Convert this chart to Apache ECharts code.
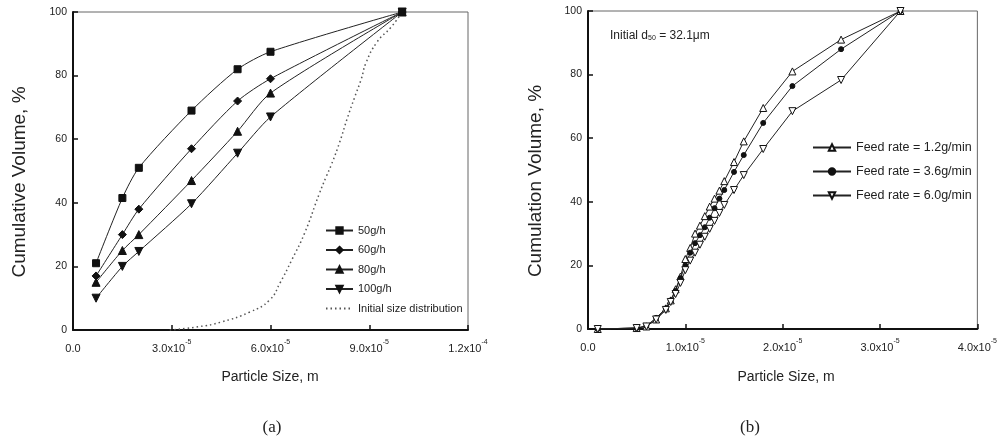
<!DOCTYPE html>
<html><head><meta charset="utf-8">
<script src="https://cdn.jsdelivr.net/npm/echarts@6/dist/echarts.min.js"></script>
<style>html,body{margin:0;padding:0;background:#fff}#c{width:1000px;height:442px}</style>
</head><body><div id="c"></div>
<script>
// Panel (a): particle size in micrometres, cumulative volume %
const sizeA = [7, 15, 20, 36, 50, 60, 100];
const v50 = [21, 41.5, 51, 69, 82, 87.5, 100];
const v60 = [17, 30, 38, 57, 72, 79, 100];
const v80 = [15, 25, 30, 47, 62.5, 74.5, 100];
const v100 = [10, 20, 24.7, 39.7, 55.6, 67, 100];
const initSize = [29.4, 38, 45, 53.6, 59.7, 63, 66.4, 70.3, 74.8, 77, 78.5, 81, 83.3, 85.5, 87.6, 89, 92.4, 96.7, 100];
const initVol = [0, 1, 2.5, 5.6, 9.4, 15, 21.9, 30.3, 42.8, 48.4, 52, 59, 66.5, 73, 79, 84, 90.6, 95.3, 100];
const namesA = ['50g/h', '60g/h', '80g/h', '100g/h', 'Initial size distribution'];

// Panel (b)
const sizeB = [1, 5, 6, 7, 8, 8.5, 9, 9.5, 10, 10.5, 11, 11.5, 12, 12.5, 13, 13.5, 14, 15, 16, 18, 21, 26, 32.1];
const r12 = [0, 0.3, 0.8, 3, 6.5, 9, 12.5, 16.5, 22, 25.5, 30, 32.5, 35.5, 38.5, 41, 43.5, 46.5, 52.5, 59, 69.5, 81, 91, 100];
const r36 = [0, 0.3, 1, 3.5, 6.5, 9, 12, 16, 20, 24, 27, 29.5, 32, 35, 38, 41, 43.7, 49.4, 54.7, 64.8, 76.4, 88, 100];
const r60 = [0, 0.3, 0.8, 3, 6, 8.5, 11, 14.5, 18.5, 21.5, 24, 26.5, 29, 31.5, 34, 36.5, 39, 43.7, 48.4, 56.6, 68.5, 78.3, 100];
const namesB = ['Feed rate = 1.2g/min', 'Feed rate = 3.6g/min', 'Feed rate = 6.0g/min'];

const yTicks = [0, 20, 40, 60, 80, 100];

function pairs(xs, ys) { return xs.map((x, i) => [x, ys[i]]); }
function fmtX(v) {
  if (Math.abs(v) < 1e-9) return '{v|0.0}';
  const m = v * 1e-6;
  const e = Math.floor(Math.log10(m) + 1e-9);
  const mant = (m / Math.pow(10, e)).toFixed(1);
  return '{v|' + mant + 'x10}{s|' + e + '}';
}
const FONT = 'Liberation Sans, Arial, sans-serif';
const richX = {
  v: {fontSize: 11, fontFamily: FONT, color: '#222', lineHeight: 15, verticalAlign: 'bottom'},
  s: {fontSize: 7, fontFamily: FONT, color: '#222', lineHeight: 15, verticalAlign: 'top'}
};

function xAxis(grid, max, interval) {
  return {
    gridIndex: grid, type: 'value', min: 0, max: max, interval: interval,
    axisLine: {show: true, onZero: false, lineStyle: {color: '#111', width: 2}},
    axisTick: {show: true, inside: true, length: 5, lineStyle: {color: '#111', width: 1.5}},
    splitLine: {show: false},
    axisLabel: {formatter: fmtX, margin: 9, rich: richX, fontSize: 11, fontFamily: FONT, color: '#222'}
  };
}
function yAxis(grid) {
  return {
    gridIndex: grid, type: 'value', min: 0, max: 100, interval: 20,
    axisLine: {show: true, onZero: false, lineStyle: {color: '#111', width: 2}},
    axisTick: {show: true, inside: true, length: 5, lineStyle: {color: '#111', width: 1.5}},
    splitLine: {show: false},
    axisLabel: {margin: 6, fontSize: 10.5, fontFamily: FONT, color: '#222',
      formatter: v => yTicks.indexOf(v) >= 0 ? String(v) : ''}
  };
}
function line(name, xi, data, symbol, size, fill, smooth) {
  return {
    name: name, type: 'line', xAxisIndex: xi, yAxisIndex: xi, data: data,
    symbol: symbol, symbolSize: size, showSymbol: true, smooth: smooth || false,
    lineStyle: {color: '#222', width: 1},
    itemStyle: {color: fill, borderColor: '#111', borderWidth: 1},
    emphasis: {disabled: true}, animation: false
  };
}

const chart = echarts.init(document.getElementById('c'), null, {renderer: 'canvas'});
chart.setOption({
  backgroundColor: '#fff',
  animation: false,
  grid: [
    {left: 73, top: 12, width: 395, height: 318, show: true, borderColor: '#666', borderWidth: 1, backgroundColor: 'transparent'},
    {left: 588, top: 11, width: 395, height: 318, show: true, borderColor: '#666', borderWidth: 1, backgroundColor: 'transparent'}
  ],
  xAxis: [xAxis(0, 120, 30), xAxis(1, 40, 10)],
  yAxis: [yAxis(0), yAxis(1)],
  legend: [
    {data: namesA.slice(0, 4).concat([{name: namesA[4], itemStyle: {color: 'transparent', borderColor: 'transparent'}}]),
      orient: 'vertical', left: 320, top: 220, itemWidth: 27, itemHeight: 8, itemGap: 8.5,
      textStyle: {fontSize: 11, fontFamily: FONT, color: '#222'}, selectedMode: false},
    {data: namesB, orient: 'vertical', left: 807, top: 136, itemWidth: 38, itemHeight: 8, itemGap: 11,
      textStyle: {fontSize: 12.5, fontFamily: FONT, color: '#222'}, selectedMode: false}
  ],
  title: {
    text: 'Initial d{sub|50} = 32.1μm', left: 605, top: 24,
    textStyle: {fontSize: 12, fontFamily: FONT, color: '#222', fontWeight: 'normal',
      rich: {sub: {fontSize: 7, fontFamily: FONT, color: '#222', verticalAlign: 'bottom', padding: [6, 0, 0, 0]}}}
  },
  graphic: [
    {type: 'text', x: 20, y: 182, rotation: Math.PI / 2, style: {text: 'Cumulative Volume, %', font: '19px "Liberation Sans", sans-serif', fill: '#222', textAlign: 'center', textVerticalAlign: 'middle'}},
    {type: 'text', x: 536, y: 181, rotation: Math.PI / 2, style: {text: 'Cumulation Volume, %', font: '19px "Liberation Sans", sans-serif', fill: '#222', textAlign: 'center', textVerticalAlign: 'middle'}},
    {type: 'text', x: 270, y: 377, style: {text: 'Particle Size, m', font: '14px "Liberation Sans", sans-serif', fill: '#222', textAlign: 'center', textVerticalAlign: 'middle'}},
    {type: 'text', x: 786, y: 377, style: {text: 'Particle Size, m', font: '14px "Liberation Sans", sans-serif', fill: '#222', textAlign: 'center', textVerticalAlign: 'middle'}},
    {type: 'text', x: 272, y: 428, style: {text: '(a)', font: '17px "Liberation Serif", serif', fill: '#222', textAlign: 'center', textVerticalAlign: 'middle'}},
    {type: 'text', x: 750, y: 428, style: {text: '(b)', font: '17px "Liberation Serif", serif', fill: '#222', textAlign: 'center', textVerticalAlign: 'middle'}}
  ],
  series: [
    line(namesA[0], 0, pairs(sizeA, v50), 'rect', 7, '#111', 0.25),
    line(namesA[1], 0, pairs(sizeA, v60), 'diamond', 8, '#111', 0.25),
    line(namesA[2], 0, pairs(sizeA, v80), 'triangle', 8, '#111', 0.25),
    line(namesA[3], 0, pairs(sizeA, v100), 'path://M0,0 L10,0 L5,9 Z', 8, '#111', 0.25),
    {name: namesA[4], type: 'line', xAxisIndex: 0, yAxisIndex: 0, data: pairs(initSize, initVol),
      symbol: 'none', smooth: true, lineStyle: {color: '#555', width: 1.5, type: [1.5, 3]},
      itemStyle: {color: '#555'}, emphasis: {disabled: true}},
    line(namesB[0], 1, pairs(sizeB, r12), 'triangle', 7, '#fff'),
    line(namesB[1], 1, pairs(sizeB, r36), 'circle', 5, '#111'),
    line(namesB[2], 1, pairs(sizeB, r60), 'path://M0,0 L10,0 L5,9 Z', 7, '#fff')
  ]
});
</script>
</body></html>
